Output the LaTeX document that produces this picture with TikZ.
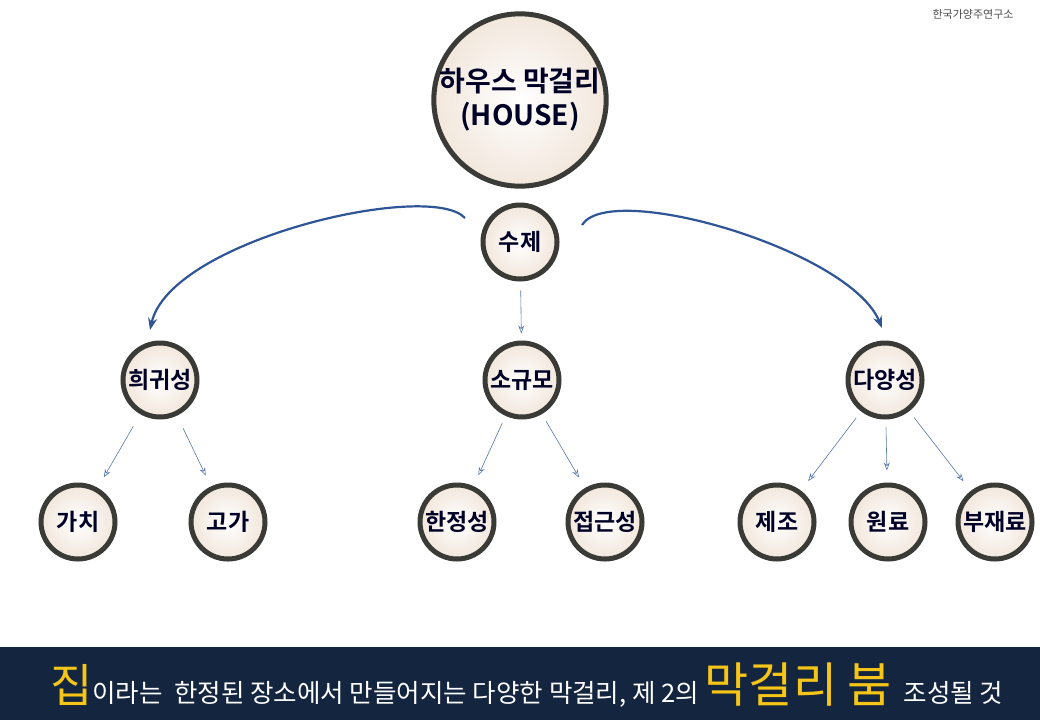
\documentclass[tikz,border=0pt]{standalone}
\usepackage{fontspec}
\setmainfont{Noto Sans CJK KR}
\newfontfamily\kb{Noto Sans CJK KR Bold}
\usetikzlibrary{arrows.meta,shadings}
\definecolor{ring}{HTML}{3A3A36}
\definecolor{bar}{HTML}{14253F}
\definecolor{gold}{HTML}{F5C518}
\definecolor{arr}{HTML}{2F5597}
\tikzset{
  bub/.style={circle,minimum size=#1,inner sep=0pt,draw=ring,line width=5pt,
    inner color=white,outer color=black!6!brown!18!white,
    font=\kb\fontsize{23}{26}\selectfont,text=black!85!blue,align=center},
  big/.style={->,>={Stealth[length=12pt,width=9pt]},draw=arr,line width=2.2pt},
  thin/.style={->,>={Stealth[length=8pt,width=6pt,open]},draw=arr!80,line width=0.6pt}
}
\begin{document}
\begin{tikzpicture}[x=1pt,y=-1pt]
\useasboundingbox (0,0) rectangle (1040,720);
\fill[white] (0,0) rectangle (1040,720);
\node[font=\fontsize{11}{12}\selectfont,text=black!70] (src) at (973,14) {한국가양주연구소};
\node[bub=160pt,font=\kb\fontsize{28}{34}\selectfont] (top) at (520,100) {하우스 막걸리\\(HOUSE)};
\node[bub=74pt] (sj) at (520,242) {수제};
\node[bub=74pt] (h) at (160,380) {희귀성};
\node[bub=74pt] (s) at (522,380) {소규모};
\node[bub=74pt] (d) at (885,380) {다양성};
\node[bub=74pt] (l1) at (78,522) {가치};
\node[bub=74pt] (l2) at (228,522) {고가};
\node[bub=74pt] (l3) at (457,522) {한정성};
\node[bub=74pt] (l4) at (605,522) {접근성};
\node[bub=74pt] (l5) at (777,522) {제조};
\node[bub=74pt] (l6) at (888,522) {원료};
\node[bub=74pt] (l7) at (995,522) {부재료};
\coordinate (a1) at (465,218);
\coordinate (b1) at (150,330);
\coordinate (a2) at (582,225);
\coordinate (b2) at (882,328);
\draw[big] (a1) .. controls (430,180) and (170,240) .. (b1);
\draw[big] (a2) .. controls (610,180) and (850,250) .. (b2);
\draw[thin,shorten <=9pt,shorten >=7pt] (sj) -- (s);
\draw[thin,shorten <=14pt,shorten >=12pt] (h) -- (l1);
\draw[thin,shorten <=14pt,shorten >=12pt] (h) -- (l2);
\draw[thin,shorten <=8pt,shorten >=12pt] (s) -- (l3);
\draw[thin,shorten <=8pt,shorten >=12pt] (s) -- (l4);
\draw[thin,shorten <=8pt,shorten >=12pt] (d) -- (l5);
\draw[thin,shorten <=8pt,shorten >=12pt] (d) -- (l6);
\draw[thin,shorten <=8pt,shorten >=12pt] (d) -- (l7);
\fill[bar] (0,647) rectangle (1040,720);
\node[anchor=base west,inner sep=0pt,text=white,font=\fontsize{25.5}{27}\selectfont] (cap) at (50,702)
 {\textcolor{gold}{\fontsize{46}{46}\selectfont 집}이라는\ \ 한정된 장소에서 만들어지는 다양한 막걸리, 제 2의 \textcolor{gold}{\fontsize{48}{48}\selectfont 막걸리 붐}\ \ 조성될 것};
\end{tikzpicture}
\end{document}
